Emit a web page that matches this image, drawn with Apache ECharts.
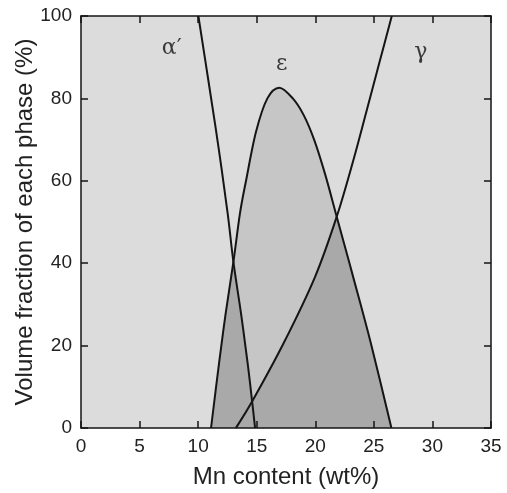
<!DOCTYPE html>
<html>
<head>
<meta charset="utf-8">
<script src="https://cdn.jsdelivr.net/npm/echarts@6/dist/echarts.min.js"></script>
<style>
  html, body { margin: 0; padding: 0; background: #fff; }
  #phase-chart { width: 507px; height: 493px; }
</style>
</head>
<body>
<div id="phase-chart"></div>
<script>
// alpha' (martensite) curve
const mnAlpha = [10.02, 10.87, 11.73, 12.52, 13.01, 13.66, 14.23, 14.63, 14.86];
const fracAlpha = [100, 84.4, 68.3, 52.1, 40.3, 27.8, 15.6, 5.9, 0];
// gamma (austenite) curve
const mnGamma = [13.22, 14.58, 17.28, 19.98, 21.83, 23.25, 24.4, 25.53, 26.53];
const fracGamma = [0, 6.3, 20.5, 36.7, 51.3, 65, 77.2, 89.3, 100];
// epsilon curve
const mnEps = [11.10, 11.78, 12.35, 13.01, 13.57, 14.1, 14.94, 15.91, 16.93, 18.08, 19.0, 19.9, 20.85, 21.83, 23.25, 24.75, 26.5];
const fracEps = [0, 15.6, 27.8, 40.3, 52.1, 60.2, 71.9, 80.0, 82.6, 80.0, 76, 70, 61.5, 51.3, 36.5, 20.5, 0];
// phase labels
const phaseNames = ['α′', 'ε', 'γ'];
const labelMn = [7.75, 17.14, 29.0];
const labelFrac = [92.2, 88.3, 91.1];
// axes
const xMin = 0, xMax = 35, xStep = 5;
const yMin = 0, yMax = 100, yStep = 20;

const zip = (xs, ys) => xs.map((x, i) => [x, ys[i]]);
const alphaData = zip(mnAlpha, fracAlpha);
const gammaData = zip(mnGamma, fracGamma);
const epsData = zip(mnEps, fracEps);

const LIGHT = '#dcdcdc';
const MID = '#c6c6c6';
const DARK = '#a9a9a9';
const INK = '#151515';
const FONT = 'Liberation Sans, Arial, sans-serif';

// catmull-rom through the pixel points, as cubic bezier segments (no leading M)
function curveSegs(pts) {
    let d = '';
    for (let i = 0; i < pts.length - 1; i++) {
        const p0 = pts[i - 1] || pts[i], p1 = pts[i], p2 = pts[i + 1], p3 = pts[i + 2] || p2;
        const c1 = [p1[0] + (p2[0] - p0[0]) / 6, p1[1] + (p2[1] - p0[1]) / 6];
        const c2 = [p2[0] - (p3[0] - p1[0]) / 6, p2[1] - (p3[1] - p1[1]) / 6];
        d += ' C' + c1.join(',') + ' ' + c2.join(',') + ' ' + p2.join(',');
    }
    return d;
}
const M = p => 'M' + p.join(',');
const L = p => ' L' + p.join(',');

function renderPhases(params, api) {
    if (params.dataIndex !== 0) return null;
    const c = p => api.coord(p);
    const a = alphaData.map(c), g = gammaData.map(c), e = epsData.map(c);

    // areas under each curve, closed along the baseline
    const epsArea = M(e[0]) + curveSegs(e) + ' Z';
    const alphaArea = M(c([xMin, yMax])) + L(a[0]) + curveSegs(a) + L(c([xMin, yMin])) + ' Z';
    const gammaArea = M(g[0]) + curveSegs(g) + L(c([xMax, yMax])) + L(c([xMax, yMin])) + ' Z';
    // everything above the epsilon curve goes back to the light tone
    const cover = M(c([xMin, yMax])) + L(c([xMin, yMin])) + L(e[0]) + curveSegs(e)
        + L(c([xMax, yMin])) + L(c([xMax, yMax])) + ' Z';

    const fill = (d, col) => ({ type: 'path', shape: { pathData: d }, style: { fill: col, stroke: null } });
    const line = pts => ({ type: 'path', shape: { pathData: M(pts[0]) + curveSegs(pts) },
        style: { fill: null, stroke: INK, lineWidth: 2 } });

    return {
        type: 'group',
        children: [
            fill(epsArea, MID),
            fill(alphaArea, DARK),
            fill(gammaArea, DARK),
            fill(cover, LIGHT),
            line(a), line(g), line(e)
        ]
    };
}

const chart = echarts.init(document.getElementById('phase-chart'));

const tickStyle = { show: true, inside: true, length: 7, lineStyle: { color: INK, width: 1.5 } };
const lineAxis = { show: true, onZero: false, lineStyle: { color: INK, width: 1.5 } };
const labelFont = { color: '#222', fontSize: 19, fontFamily: FONT };
const nameFont = { color: '#222', fontSize: 24, fontFamily: FONT };

const option = {
    animation: false,
    grid: {
        left: 81, right: 16, top: 16, bottom: 65,
        outerBoundsMode: 'none', containLabel: false,
        show: true, backgroundColor: LIGHT, borderWidth: 0
    },
    xAxis: [
        {
            type: 'value', min: xMin, max: xMax, interval: xStep, z: 10,
            name: 'Mn content (wt%)', nameLocation: 'middle', nameGap: 37, nameMoveOverlap: false,
            nameTextStyle: nameFont,
            axisLine: lineAxis, axisTick: tickStyle,
            axisLabel: Object.assign({ margin: 9 }, labelFont),
            splitLine: { show: false }
        },
        {
            type: 'value', position: 'top', min: xMin, max: xMax, interval: xStep, z: 10,
            axisLine: lineAxis, axisTick: tickStyle, axisLabel: { show: false },
            splitLine: { show: false }
        }
    ],
    yAxis: [
        {
            type: 'value', min: yMin, max: yMax, interval: yStep, z: 10,
            name: 'Volume fraction of each phase (%)', nameLocation: 'middle', nameGap: 44, nameMoveOverlap: false,
            nameTextStyle: nameFont,
            axisLine: lineAxis, axisTick: tickStyle,
            axisLabel: Object.assign({ margin: 9 }, labelFont),
            splitLine: { show: false }
        },
        {
            type: 'value', position: 'right', min: yMin, max: yMax, interval: yStep, z: 10,
            axisLine: lineAxis, axisTick: tickStyle, axisLabel: { show: false },
            splitLine: { show: false }
        }
    ],
    series: [
        {
            type: 'custom', silent: true, z: 2,
            data: epsData,
            renderItem: renderPhases
        },
        {
            type: 'scatter', symbolSize: 0, silent: true, z: 11,
            data: phaseNames.map((n, i) => ({ value: [labelMn[i], labelFrac[i]], name: n })),
            label: {
                show: true, position: 'inside', formatter: '{b}',
                color: '#111', fontSize: 22, fontFamily: 'DejaVu Serif, Liberation Serif, serif'
            }
        }
    ]
};

chart.setOption(option);
</script>
</body>
</html>
